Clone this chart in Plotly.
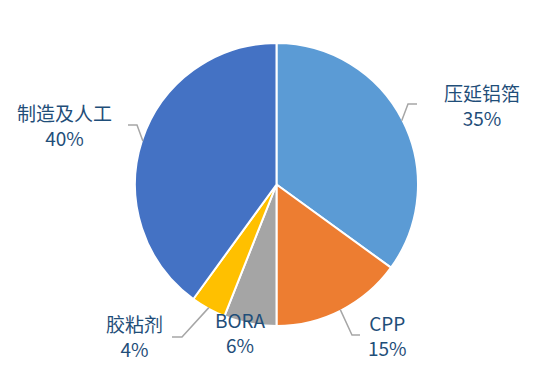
import math
import plotly.graph_objects as go

# ---- data ----
categories = ["压延铝箔", "CPP", "BORA", "胶粘剂", "制造及人工"]
values = [35, 15, 6, 4, 40]
pct_labels = ["35%", "15%", "6%", "4%", "40%"]
colors = ["#5B9BD5", "#ED7D31", "#A5A5A5", "#FFC000", "#4472C4"]

# ---- layout constants (pixels) ----
W, H = 553, 368
CX, CY, R = 276.5, 184.5, 141.5
TEXT_COLOR = "#1F4E79"
FONT = "Noto Sans CJK SC"
FS = 19
# label centre (x, y of name line) and leader elbow / end
label_pos = [(482, 93), (387, 323), (240, 320), (134, 324), (64, 113)]
leader_elbow = [(408, 104), (352, 335), (182, 337), (137, 125)]
leader_end = [(417, 104), (360, 335), (172, 337), (128, 125)]
leader_idx = [0, 1, 3, 4]


def px(x):
    return x / W


def py(y):
    return 1 - y / H


fig = go.Figure(
    go.Pie(
        labels=categories,
        values=values,
        sort=False,
        direction="clockwise",
        rotation=0,
        marker=dict(colors=colors, line=dict(color="white", width=2)),
        textinfo="none",
        hoverinfo="label+percent",
        domain=dict(x=[px(CX - R), px(CX + R)], y=[py(CY + R), py(CY - R)]),
    )
)

annotations = []
for i, (name, pct) in enumerate(zip(categories, pct_labels)):
    lx, ly = label_pos[i]
    annotations.append(dict(x=px(lx), y=py(ly + 12), xref="paper", yref="paper",
                            text=f"{name}<br>{pct}",
                            showarrow=False, xanchor="center", yanchor="middle",
                            align="center", borderpad=0,
                            font=dict(family=FONT, size=FS, color=TEXT_COLOR)))

shapes = []
total = sum(values)
cum = 0
mids = []
for v in values:
    mids.append((cum + v / 2) / total * 2 * math.pi)
    cum += v
for k, i in enumerate(leader_idx):
    a = mids[i]
    ex, ey = CX + (R - 1) * math.sin(a), CY - (R - 1) * math.cos(a)
    bx, by = leader_elbow[k]
    tx, ty = leader_end[k]
    path = f"M {px(ex)},{py(ey)} L {px(bx)},{py(by)} L {px(tx)},{py(ty)}"
    shapes.append(dict(type="path", path=path, xref="paper", yref="paper",
                       line=dict(color="#A6A6A6", width=1.5)))

fig.update_layout(
    width=W, height=H,
    margin=dict(l=0, r=0, t=0, b=0),
    paper_bgcolor="white", plot_bgcolor="white",
    showlegend=False,
    annotations=annotations,
    shapes=shapes,
)

fig.write_html("out.html", config={"displayModeBar": False},
               post_script="document.body.style.margin='0';document.body.style.overflow='hidden';")
